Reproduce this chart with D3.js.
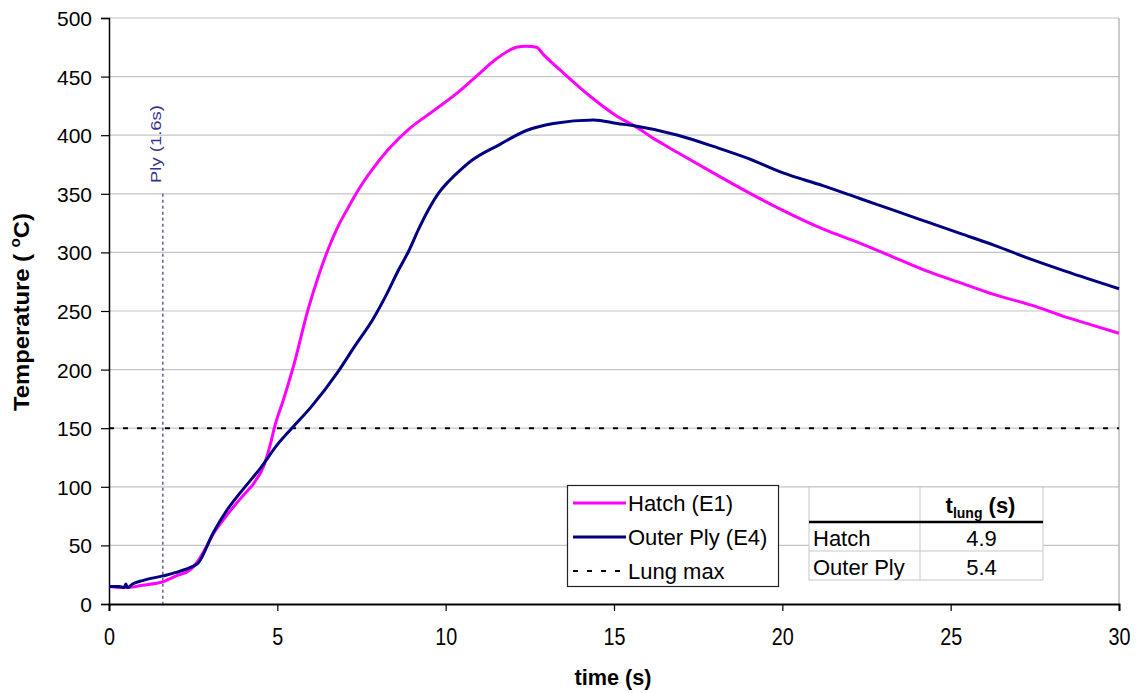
<!DOCTYPE html>
<html>
<head>
<meta charset="utf-8">
<script src="https://cdn.jsdelivr.net/npm/d3@7"></script>
<style>
  html, body { margin: 0; padding: 0; background: #fff; }
  svg { display: block; }
  text { font-family: "Liberation Sans", Arial, sans-serif; }
</style>
</head>
<body>
<svg id="chart" width="1140" height="693"></svg>
<script>
// Time axis (s) and temperature readings (°C)
const hatchTime = [0, 0.5, 1.0, 1.6, 2.0, 2.4, 2.6, 2.8, 3.1, 3.4, 3.7, 4.0, 4.3, 4.6, 4.8, 4.9, 5.2, 5.5, 5.9, 6.2, 6.5, 6.8, 7.1, 7.4, 7.8, 8.3, 8.9, 9.6, 10.3, 10.9, 11.5, 12.1, 12.4, 12.7, 12.9, 13.5, 14.3, 15.1, 15.6, 16.3, 16.9, 18.0, 19.0, 20.0, 21.2, 22.3, 23.3, 24.3, 25.3, 26.3, 27.4, 28.4, 29.2, 30];
const hatchTemp = [15, 14, 16, 19, 24, 29, 35, 44, 60, 72, 83, 93, 103, 118, 137, 149, 176, 205, 250, 278, 302, 322, 338, 353, 370, 388, 405, 420, 435, 450, 465, 475, 476, 475, 469, 453, 433, 416, 408, 395, 385, 367, 351, 336, 320, 308, 296, 284, 274, 264, 255, 245, 238, 231];

const plyTime = [0, 0.3, 0.45, 0.5, 0.55, 0.7, 1.0, 1.6, 2.0, 2.4, 2.65, 3.1, 3.5, 3.9, 4.5, 5.0, 5.43, 6.0, 6.8, 7.3, 7.84, 8.26, 8.6, 8.9, 9.2, 9.5, 9.8, 10.1, 10.5, 10.8, 11.6, 12.4, 13.2, 14.4, 15.1, 15.6, 16.9, 18.0, 19.0, 20.0, 21.2, 22.3, 23.3, 24.3, 25.3, 26.3, 27.4, 28.4, 30];
const plyTemp = [15, 15, 14, 17, 14, 17, 20, 24, 27, 31, 35, 61, 80, 95, 116, 136, 150, 168, 198, 220, 243, 265, 285, 301, 320, 337, 351, 361, 372, 379, 392, 404, 410, 413, 410, 408, 400, 390, 380, 368, 357, 346, 336, 326, 316, 306, 294, 284, 269];

const lungMax = 150;          // °C
const plyMarkTime = 1.6;      // s
const plyMarkTop = 350;       // °C, top of the marker line

const xTicks = [0, 5, 10, 15, 20, 25, 30];
const yTicks = [0, 50, 100, 150, 200, 250, 300, 350, 400, 450, 500];

const legendLabels = ["Hatch (E1)", "Outer Ply (E4)", "Lung max"];
const tableRows = ["Hatch", "Outer Ply"];
const tableValues = ["4.9", "5.4"];

const svg = d3.select("#chart");
const L = 109, R = 1119, T = 18, B = 604;

const x = d3.scaleLinear().domain([0, 30]).range([L, R]);
const y = d3.scaleLinear().domain([0, 500]).range([B, T]);

// gridlines
svg.append("g").selectAll("line").data(yTicks.filter(d => d > 0)).join("line")
  .attr("x1", L).attr("x2", R)
  .attr("y1", d => y(d)).attr("y2", d => y(d))
  .attr("stroke", "#c4c4c4").attr("stroke-width", 1.2);

// right frame edge
svg.append("line").attr("x1", R).attr("x2", R).attr("y1", T).attr("y2", B)
  .attr("stroke", "#a8a8a8").attr("stroke-width", 1.2);

// x axis
const xAxis = svg.append("g").attr("transform", `translate(0,${B})`)
  .call(d3.axisBottom(x).tickValues(xTicks).tickSize(7).tickFormat(d3.format("d")));
xAxis.select(".domain").attr("stroke", "#000").attr("stroke-width", 2);
xAxis.selectAll(".tick line").attr("stroke", "#000").attr("stroke-width", 1.2);
xAxis.selectAll(".tick text")
  .attr("y", 41).attr("dy", 0)
  .attr("font-size", 23).attr("fill", "#000")
  .attr("font-family", "'Liberation Sans', Arial, sans-serif")
  .attr("textLength", d => String(d).length * 11)
  .attr("lengthAdjust", "spacingAndGlyphs");

// y axis
const yAxis = svg.append("g").attr("transform", `translate(${L},0)`)
  .call(d3.axisLeft(y).tickValues(yTicks).tickSize(8).tickFormat(d3.format("d")));
yAxis.select(".domain").attr("stroke", "#000").attr("stroke-width", 1.5);
yAxis.selectAll(".tick line").attr("stroke", "#000").attr("stroke-width", 1.2);
yAxis.selectAll(".tick text")
  .attr("x", -17).attr("dy", "0.36em")
  .attr("font-size", 21).attr("fill", "#000")
  .attr("font-family", "'Liberation Sans', Arial, sans-serif");

// axis titles
svg.append("text")
  .attr("x", x(15) - 1).attr("y", 685)
  .attr("text-anchor", "middle")
  .attr("font-size", 22).attr("font-weight", "bold")
  .attr("textLength", 77).attr("lengthAdjust", "spacingAndGlyphs")
  .text("time (s)");

const yTitle = svg.append("text")
  .attr("transform", "translate(29,312) rotate(-90)")
  .attr("text-anchor", "middle")
  .attr("font-size", 22).attr("font-weight", "bold")
  .attr("textLength", 198).attr("lengthAdjust", "spacingAndGlyphs");
yTitle.append("tspan").text("Temperature ( ");
yTitle.append("tspan").attr("font-size", 14).attr("dy", -9).text("o");
yTitle.append("tspan").attr("dy", 9).text("C)");

// lung limit
svg.append("line")
  .attr("x1", x(0)).attr("x2", x(30))
  .attr("y1", y(lungMax)).attr("y2", y(lungMax))
  .attr("stroke", "#000").attr("stroke-width", 2)
  .attr("stroke-dasharray", "5,9");

// ply marker
svg.append("line")
  .attr("x1", x(plyMarkTime)).attr("x2", x(plyMarkTime))
  .attr("y1", y(plyMarkTop)).attr("y2", y(0))
  .attr("stroke", "#3a3a7a").attr("stroke-width", 1.2)
  .attr("stroke-dasharray", "3,3");
svg.append("text")
  .attr("transform", `translate(${x(plyMarkTime) - 2},144) rotate(-90)`)
  .attr("text-anchor", "middle")
  .attr("font-size", 15).attr("fill", "#34348a")
  .attr("textLength", 78).attr("lengthAdjust", "spacingAndGlyphs")
  .text(`Ply (${plyMarkTime}s)`);

// series
const line = d3.line().x(d => x(d[0])).y(d => y(d[1])).curve(d3.curveMonotoneX);
const hatch = d3.zip(hatchTime, hatchTemp);
const ply = d3.zip(plyTime, plyTemp);

svg.append("path").datum(hatch).attr("d", line)
  .attr("fill", "none").attr("stroke", "#ff00ff").attr("stroke-width", 3)
  .attr("stroke-linejoin", "round");
svg.append("path").datum(ply).attr("d", line)
  .attr("fill", "none").attr("stroke", "#000080").attr("stroke-width", 3)
  .attr("stroke-linejoin", "round");

// legend
const lg = svg.append("g");
lg.append("rect").attr("x", 567.5).attr("y", 485.5).attr("width", 211).attr("height", 101)
  .attr("fill", "#fff").attr("stroke", "#222").attr("stroke-width", 1.2);
const legendY = [503, 537, 571];
const legendStyles = [
  { stroke: "#ff00ff", width: 3, dash: null },
  { stroke: "#000080", width: 3, dash: null },
  { stroke: "#000", width: 2, dash: "5,9" }
];
legendLabels.forEach((lab, i) => {
  lg.append("line").attr("x1", 573).attr("x2", 626)
    .attr("y1", legendY[i]).attr("y2", legendY[i])
    .attr("stroke", legendStyles[i].stroke).attr("stroke-width", legendStyles[i].width)
    .attr("stroke-dasharray", legendStyles[i].dash);
  lg.append("text").attr("x", 628).attr("y", legendY[i] + 8)
    .attr("font-size", 22).attr("fill", "#000").text(lab);
});

// t_lung table
const tb = svg.append("g");
const tX0 = 809, tX1 = 920, tX2 = 1043;
const tY = [487, 522, 551, 580];
tb.append("rect").attr("x", tX0).attr("y", tY[0]).attr("width", tX2 - tX0).attr("height", tY[3] - tY[0])
  .attr("fill", "#fff").attr("stroke", "#c8c8c8").attr("stroke-width", 1);
tb.append("line").attr("x1", tX1).attr("x2", tX1).attr("y1", tY[0]).attr("y2", tY[3])
  .attr("stroke", "#c8c8c8");
tb.append("line").attr("x1", tX0).attr("x2", tX2).attr("y1", tY[2]).attr("y2", tY[2])
  .attr("stroke", "#c8c8c8");
tb.append("line").attr("x1", tX0).attr("x2", tX2).attr("y1", tY[1]).attr("y2", tY[1])
  .attr("stroke", "#000").attr("stroke-width", 2.5);

const head = tb.append("text").attr("x", (tX1 + tX2) / 2 - 1).attr("y", 513)
  .attr("text-anchor", "middle").attr("font-size", 22).attr("font-weight", "bold");
head.append("tspan").text("t");
head.append("tspan").attr("font-size", 14).attr("dy", 5).text("lung");
head.append("tspan").attr("dy", -5).text(" (s)");

tableRows.forEach((r, i) => {
  const by = [546, 575][i];
  tb.append("text").attr("x", tX0 + 4).attr("y", by).attr("font-size", 22).text(r);
  tb.append("text").attr("x", (tX1 + tX2) / 2).attr("y", by)
    .attr("text-anchor", "middle").attr("font-size", 22).text(tableValues[i]);
});
</script>
</body>
</html>
